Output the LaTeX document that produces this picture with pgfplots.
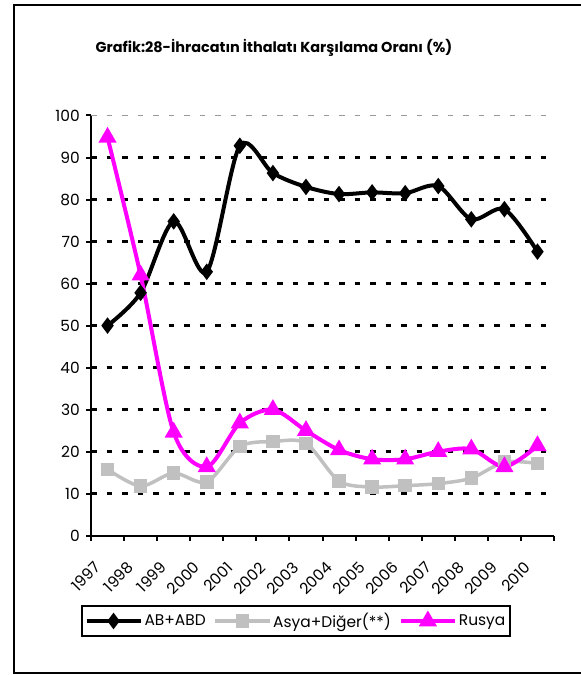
\documentclass[border=0pt]{standalone}
\usepackage{fontspec}
\setmainfont{Poppins}
\usepackage{pgfplots}
\pgfplotsset{compat=1.18}
\definecolor{mag}{RGB}{255,0,255}
\definecolor{lgray}{RGB}{192,192,192}
\begin{document}
\begin{tikzpicture}[x=1bp,y=1bp]
\useasboundingbox (0,0) rectangle (581,675);
\draw[line width=2bp] (14,2) rectangle (600,670);
\node[font=\bfseries\fontsize{14.5}{17}\selectfont] at (274,627) {Grafik:28-İhracatın İthalatı Karşılama Oranı (\%)};
\begin{axis}[
 at={(91bp,139.3bp)}, anchor=south west,
 scale only axis, width=463bp, height=420.2bp,
 xmin=-0.5, xmax=13.5, ymin=0, ymax=100,
 clip=false,
 axis lines=left, axis line style={-, line width=2bp},
 xtick={0,...,13},
 xticklabels={1997,1998,1999,2000,2001,2002,2003,2004,2005,2006,2007,2008,2009,2010},
 minor xtick={-0.5,0.5,...,13.5},
 major x tick style={draw=none},
 ytick={10,20,...,90},
 extra y ticks={0,100},
 extra y tick style={grid=none},
 ymajorgrids=true,
 y grid style={black, line width=2.5bp, dash pattern=on 5.5bp off 10bp},
 tick align=outside,
 major tick length=5bp, minor tick length=5bp,
 tick style={black, line width=2bp},
 /pgf/number format/assume math mode=true,
 ticklabel style={font=\fontsize{15.5}{18}\selectfont},
 yticklabel style={anchor=east, inner sep=0pt, xshift=-6bp},
 xticklabel style={xshift=-14bp, yshift=-20bp, rotate=45, anchor=north east, inner sep=0pt},
 legend columns=3,
 legend style={at={(0.4426,-0.203)}, anchor=center, draw=black, line width=2bp,
   font=\fontsize{15.5}{18}\selectfont, inner xsep=3bp, inner ysep=5bp,
   /tikz/every even column/.append style={column sep=6bp}},
 legend image code/.code={\draw[mark repeat=2,mark phase=2,#1] plot coordinates {(0bp,0bp) (27bp,0bp) (54bp,0bp)};},
]
\draw[gray!80, line width=1bp, dash pattern=on 5.5bp off 10bp] (rel axis cs:0,1) -- (rel axis cs:1,1);
\addplot[black, line width=4bp, smooth, mark=diamond*, mark size=5bp, mark options={solid}] coordinates {
(0,50.0) (1,57.8) (2,74.8) (3,62.8) (4,92.8) (5,86.3) (6,83.0) (7,81.3) (8,81.7) (9,81.5) (10,83.2) (11,75.3) (12,77.7) (13,67.6)};
\addlegendentry{AB+ABD}
\addplot[lgray, line width=3.5bp, smooth, mark=square*, mark size=5bp] coordinates {
(0,15.8) (1,11.8) (2,14.9) (3,12.8) (4,21.2) (5,22.4) (6,22.0) (7,13.0) (8,11.6) (9,11.9) (10,12.4) (11,13.7) (12,17.5) (13,17.2)};
\addlegendentry{Asya+Diğer(**)}
\addplot[mag, line width=4bp, smooth, mark=triangle*, mark size=6.5bp] coordinates {
(0,94.8) (1,62.0) (2,24.6) (3,16.4) (4,26.8) (5,30.0) (6,25.0) (7,20.4) (8,18.2) (9,18.2) (10,20.0) (11,20.6) (12,16.4) (13,21.4)};
\addlegendentry{Rusya}
\end{axis}
\end{tikzpicture}
\end{document}
